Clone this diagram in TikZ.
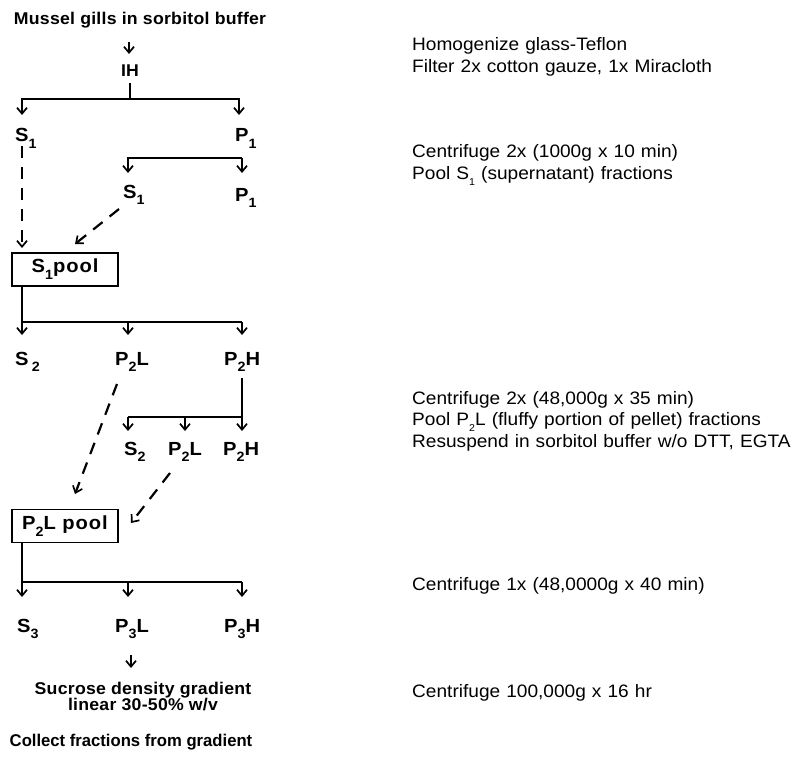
\documentclass[tikz,border=0pt]{standalone}
\usepackage{fontspec}
\usetikzlibrary{arrows.meta}
\setmainfont{Liberation Sans}
\newfontfamily\notefont{Liberation Sans}[FakeStretch=1.06,WordSpace=1.15]
\newfontfamily\labfont{Liberation Sans Bold}[FakeStretch=1.06,LetterSpace=5]
\newfontfamily\headfont{Liberation Sans Bold}[FakeStretch=1.04,LetterSpace=1.5]
\newfontfamily\tailfont{Liberation Sans Bold}[FakeStretch=0.98]
% lowered subscript digits in labels and notes
\newcommand\lsub[1]{\raisebox{-0.36em}{\fontsize{13.5}{14}\selectfont #1}}
\newcommand\nsub[1]{\raisebox{-0.35em}{\fontsize{10}{10}\selectfont #1}}
\begin{document}
\begin{tikzpicture}[x=1pt,y=-1pt,
  wire/.style={line width=1.8pt},
  arr/.style={wire,-{Straight Barb[length=6pt,width=10pt,line width=1.7pt]}},
  dashy/.style={arr,line width=2.2pt,dash pattern=on 12pt off 9pt},
  lab/.style={font={\labfont\fontsize{19}{21}\selectfont},anchor=base west,inner sep=0pt},
  note/.style={font={\notefont\fontsize{18}{20}\selectfont},anchor=base west,inner sep=0pt},
  head/.style={font={\headfont\fontsize{17}{19}\selectfont},anchor=base,inner sep=0pt},
  pool/.style={draw,line width=1.8pt,minimum width=106pt,minimum height=33pt,inner sep=0pt,
    font={\labfont\fontsize{19}{21}\selectfont}}]
\useasboundingbox (0,0) rectangle (797,765);

% ---- flow chart ----
\node[head] (title) at (140,25) {Mussel gills in sorbitol buffer};
\node[head] (IH) at (130,77) {IH};

\node[lab] (S1a) at (15,142) {S\lsub{1}};
\node[lab] (P1a) at (235,142) {P\lsub{1}};
\node[lab] (S1b) at (123,198) {S\lsub{1}};
\node[lab] (P1b) at (235,201) {P\lsub{1}};

\node[pool] (pool1) at (65,269.5) {S\lsub{1}pool};

\node[lab] (S2a) at (15,365) {S\,\lsub{2}};
\node[lab] (P2La) at (115,365) {P\lsub{2}L};
\node[lab] (P2Ha) at (224,365) {P\lsub{2}H};
\node[lab] (S2b) at (124,455) {S\lsub{2}};
\node[lab] (P2Lb) at (168,455) {P\lsub{2}L};
\node[lab] (P2Hb) at (223,455) {P\lsub{2}H};

\node[pool] (pool2) at (65,526) {P\lsub{2}L pool};

\node[lab] (S3) at (17,632) {S\lsub{3}};
\node[lab] (P3L) at (115,632) {P\lsub{3}L};
\node[lab] (P3H) at (224,632) {P\lsub{3}H};

\node[head] (sucrose) at (143,694) {Sucrose density gradient};
\node[head] (linear) at (143,710) {linear 30-50\% w/v};
\node[head,font={\tailfont\fontsize{17}{19}\selectfont}] (collect) at (131,746) {Collect fractions from gradient};

% junction points and arrow ends
\coordinate (a0s) at (129,42);  \coordinate (a0e) at (129,54);
\coordinate (j1) at (130,99);
\coordinate (t1L) at (22,115);  \coordinate (t1R) at (239,115);
\coordinate (j2L) at (128,158); \coordinate (j2R) at (242,158);
\coordinate (t2L) at (128,173); \coordinate (t2R) at (242,173);
\coordinate (j3) at (22,322);   \coordinate (j3R) at (242,322);
\coordinate (t3L) at (22,335);  \coordinate (t3M) at (128,335); \coordinate (t3R) at (242,335);
\coordinate (j4L) at (128,417); \coordinate (j4M) at (185,417); \coordinate (j4R) at (242,417);
\coordinate (t4L) at (128,431); \coordinate (t4M) at (185,431); \coordinate (t4R) at (242,431);
\coordinate (j5) at (22,582);   \coordinate (j5R) at (242,582);
\coordinate (t5L) at (22,597);  \coordinate (t5M) at (128,597); \coordinate (t5R) at (242,597);
\coordinate (a6s) at (131,655); \coordinate (a6e) at (131,668);

% title -> IH
\draw[arr] (a0s) -- (a0e);
% IH -> S1, P1
\draw[wire] (IH.south) ++(0,6) -- (j1);
\draw[arr] (j1) -| (t1L);
\draw[arr] (j1) -| (t1R);
% second spin: S1, P1
\draw[arr] (j2R) -- (j2L) -- (t2L);
\draw[arr] (j2R) -- (t2R);
% pooling of supernatants
\draw[dashy] (22,146) -- (22,248);
\draw[dashy] (S1b.south west) ++(-4,4) -- (75,244);
% S1 pool -> S2, P2L, P2H
\draw[wire] (pool1.south -| j3) -- (j3) -- (j3R);
\draw[arr] (j3) -- (t3L);
\draw[arr] (t3M |- j3) -- (t3M);
\draw[arr] (j3R) -- (t3R);
% P2H -> S2, P2L, P2H
\draw[arr] (242,378) -- (t4R);
\draw[wire] (j4R) -- (j4L);
\draw[arr] (j4L) -- (t4L);
\draw[arr] (j4M) -- (t4M);
% pooling of P2L fractions
\draw[dashy] (117,384) -- (75,494);
\draw[dashy] (170,473) -- (131,523);
% P2L pool -> S3, P3L, P3H
\draw[wire] (pool2.south -| j5) -- (j5) -- (j5R);
\draw[arr] (j5) -- (t5L);
\draw[arr] (t5M |- j5) -- (t5M);
\draw[arr] (j5R) -- (t5R);
% P3L -> gradient
\draw[arr] (a6s) -- (a6e);

% ---- procedure notes ----
\node[note] (n1) at (412,51) {Homogenize glass-Teflon};
\node[note] (n2) at (412,72.5) {Filter 2x cotton gauze, 1x Miracloth};
\node[note] (n3) at (412,157) {Centrifuge 2x (1000g x 10 min)};
\node[note] (n4) at (412,179) {Pool S\nsub{1} (supernatant) fractions};
\node[note] (n5) at (412,404) {Centrifuge 2x (48,000g x 35 min)};
\node[note] (n6) at (412,425.5) {Pool P\nsub{2}L (fluffy portion of pellet) fractions};
\node[note] (n7) at (412,447) {Resuspend in sorbitol buffer w/o DTT, EGTA};
\node[note] (n8) at (412,590) {Centrifuge 1x (48,0000g x 40 min)};
\node[note] (n9) at (412,697) {Centrifuge 100,000g x 16 hr};
\end{tikzpicture}
\end{document}
